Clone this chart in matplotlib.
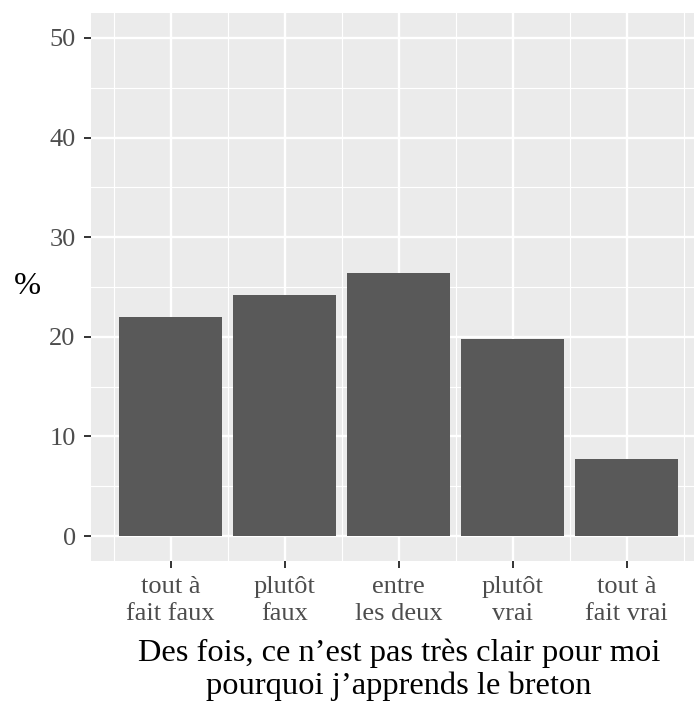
import matplotlib
matplotlib.use("Agg")
import matplotlib.pyplot as plt
from matplotlib.ticker import FixedLocator

categories = ["tout à\nfait faux", "plutôt\nfaux", "entre\nles deux", "plutôt\nvrai", "tout à\nfait vrai"]
percent = [22.0, 24.2, 26.4, 19.8, 7.7]
y_ticks = [0, 10, 20, 30, 40, 50]
x_title = "Des fois, ce n’est pas très clair pour moi\npourquoi j’apprends le breton"
y_title = "%"

plt.rcParams['font.family'] = ['Liberation Serif', 'DejaVu Serif']

W, H = 694, 706
fig = plt.figure(figsize=(W/100, H/100), dpi=100)
left, right, top, bottom = 91, 706.5, 13, 561
ax = fig.add_axes([left/W, 1 - bottom/H, (right-left)/W, (bottom-top)/H])
ax.set_facecolor('#EBEBEB')
for s in ax.spines.values():
    s.set_visible(False)

x = list(range(1, len(categories)+1))
ax.bar(x, percent, width=0.9, color='#595959', zorder=3)

ax.set_xlim(0.3, 5.7)
ax.set_ylim(-2.5, 52.5)
ax.xaxis.set_major_locator(FixedLocator(x))
ax.xaxis.set_minor_locator(FixedLocator([i + 0.5 for i in range(0, 6)]))
ax.set_yticks(y_ticks)
ax.yaxis.set_minor_locator(FixedLocator([5, 15, 25, 35, 45]))
ax.set_xticklabels(categories, fontsize=19, color='#4D4D4D', linespacing=1.3)
ax.set_yticklabels([str(v) for v in y_ticks], fontsize=19, color='#4D4D4D')

ax.grid(which='major', color='white', linewidth=1.7, zorder=0)
ax.grid(which='minor', color='white', linewidth=0.8, zorder=0)
ax.set_axisbelow(True)
ax.tick_params(which='major', length=5, width=1.4, color='#333333')
ax.tick_params(axis='y', which='major', pad=6)
ax.tick_params(axis='x', which='major', pad=6)
ax.tick_params(which='minor', length=0)

ax.set_xlabel(x_title, fontsize=23.4, color='black', linespacing=1.15)
ax.xaxis.set_label_coords(0.5, -0.142)
ax.set_ylabel(y_title, fontsize=23.4, color='black', rotation=0, va='center', ha='center')
ax.yaxis.set_label_coords(-0.104, 0.5)

fig.savefig('out.png', dpi=100)
